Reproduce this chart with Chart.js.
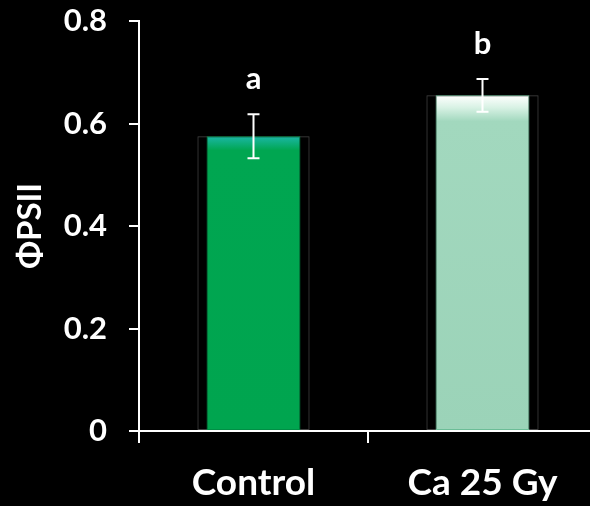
<!DOCTYPE html>
<html>
<head>
<meta charset="utf-8">
<script src="https://cdn.jsdelivr.net/npm/chart.js@4"></script>
<style>
  html, body { margin: 0; padding: 0; background: #000; overflow: hidden; }
  #wrap { width: 590px; height: 506px; overflow: hidden; }
</style>
</head>
<body>
<div id="wrap"><canvas id="myChart" width="600" height="506"></canvas></div>
<script>
// ΦPSII bar chart
const labels = ['Control', 'Ca 25 Gy'];
const phiPSII = [0.575, 0.655];
const phiErr = [0.043, 0.032];
const sigLetters = ['a', 'b'];
const yTicks = [0, 0.2, 0.4, 0.6, 0.8];

const FONT = 'Lato, "Open Sans", sans-serif';

// glossy gradient per bar
function barFill(c) {
    const chart = c.chart;
    if (!chart.chartArea || c.raw === undefined) return '#00a651';
    const y = chart.scales.y;
    const top = y.getPixelForValue(c.raw);
    const base = y.getPixelForValue(0);
    const g = chart.ctx.createLinearGradient(0, top, 0, base);
    const h = base - top;
    if (c.dataIndex === 0) {
        g.addColorStop(0, '#1bb7a6');
        g.addColorStop(Math.min(1, 14 / h), '#00a651');
        g.addColorStop(1, '#00a54f');
    } else {
        g.addColorStop(0, '#ffffff');
        g.addColorStop(Math.min(1, 12 / h), '#d9f2e5');
        g.addColorStop(Math.min(1, 26 / h), '#a2d8be');
        g.addColorStop(1, '#9bd3b8');
    }
    return g;
}

// error bars + significance letters
const errorBars = {
    id: 'errorBars',
    afterDatasetsDraw(chart) {
        const ctx = chart.ctx;
        const y = chart.scales.y;
        const meta = chart.getDatasetMeta(0);
        ctx.save();
        ctx.strokeStyle = '#fff';
        ctx.lineWidth = 2;
        meta.data.forEach(function (bar, i) {
            const x = bar.x;
            const t = y.getPixelForValue(phiPSII[i] + phiErr[i]);
            const b = y.getPixelForValue(phiPSII[i] - phiErr[i]);
            ctx.beginPath();
            ctx.moveTo(x, t); ctx.lineTo(x, b);
            ctx.moveTo(x - 6, t); ctx.lineTo(x + 6, t);
            ctx.moveTo(x - 6, b); ctx.lineTo(x + 6, b);
            ctx.stroke();
            ctx.fillStyle = '#fff';
            ctx.font = 'bold 31px ' + FONT;
            ctx.textAlign = 'center';
            ctx.textBaseline = 'alphabetic';
            ctx.fillText(sigLetters[i], x, t - 25);
        });
        ctx.restore();
    }
};

var ctx1 = document.getElementById('myChart');
var myChart = new Chart(ctx1, {
    type: 'bar',
    data: {
        labels: labels,
        datasets: [{
            label: 'ΦPSII',
            data: phiPSII,
            backgroundColor: barFill,
            borderColor: ['#008f45', '#6cbd97'],
            borderWidth: 1,
            borderSkipped: false,
            barPercentage: 0.41,
            categoryPercentage: 1,
            grouped: false,
            order: 1
        }, {
            label: 'frame',
            data: phiPSII,
            backgroundColor: 'rgba(0,0,0,0)',
            borderColor: '#404040',
            borderWidth: 1,
            borderSkipped: false,
            barPercentage: 0.49,
            categoryPercentage: 1,
            grouped: false,
            order: 2
        }]
    },
    options: {
        responsive: false,
        animation: false,
        devicePixelRatio: 1,
        layout: { padding: { top: 21, right: 3, left: 0, bottom: 0 } },
        plugins: {
            legend: { display: false },
            tooltip: { enabled: false }
        },
        scales: {
            x: {
                grid: {
                    drawOnChartArea: false,
                    drawTicks: true,
                    tickLength: 12,
                    color: '#fff',
                    lineWidth: 2,
                    offset: true
                },
                border: { display: true, color: '#fff', width: 2 },
                ticks: {
                    color: '#fff',
                    padding: 18,
                    font: { family: FONT, size: 37, weight: 'bold' }
                },
                afterFit: function (s) { s.height = 75; s.paddingLeft = 0; s.paddingRight = 0; }
            },
            y: {
                min: 0,
                max: 0.8,
                afterBuildTicks: function (s) { s.ticks = yTicks.map(v => ({ value: v })); },
                grid: {
                    drawOnChartArea: false,
                    drawTicks: true,
                    tickLength: 10,
                    color: '#fff',
                    lineWidth: 2
                },
                border: { display: true, color: '#fff', width: 2 },
                ticks: {
                    color: '#fff',
                    padding: 22,
                    font: { family: FONT, size: 31, weight: 'bold' },
                    callback: function (v) { return v === 0 ? '0' : v.toFixed(1); }
                },
                title: {
                    display: true,
                    text: 'ΦPSII',
                    color: '#fff',
                    padding: { top: 11, bottom: 0 },
                    font: { family: FONT, size: 33, weight: 'bold' }
                },
                afterFit: function (s) { s.width = 139; s.paddingTop = 0; s.paddingBottom = 0; }
            }
        }
    },
    plugins: [errorBars]
});
</script>
</body>
</html>
